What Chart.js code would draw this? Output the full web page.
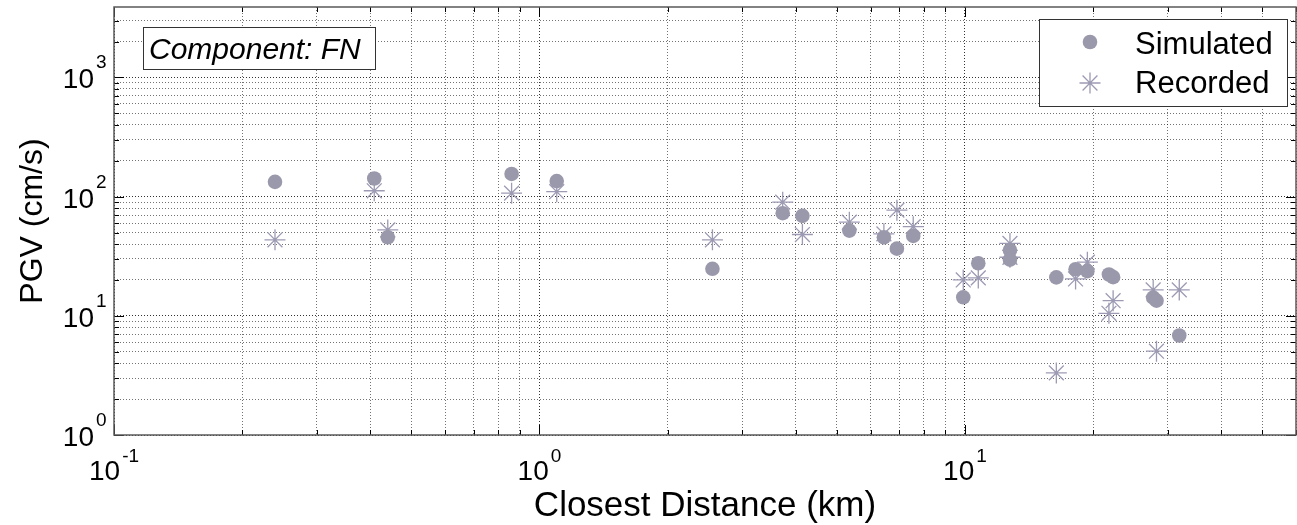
<!DOCTYPE html>
<html>
<head>
<meta charset="utf-8">
<script src="https://cdn.jsdelivr.net/npm/chart.js@4.4.1/dist/chart.umd.min.js"></script>
<style>
  html, body { margin: 0; padding: 0; background: #fff; }
  #wrap { width: 1297px; height: 525px; }
</style>
</head>
<body>
<div id="wrap"><canvas id="pgvChart" width="1297" height="525"></canvas></div>
<script>
// station closest distances (km) and peak ground velocity (cm/s)
const distanceKm = [0.239, 0.409, 0.440, 0.860, 1.098, 2.55, 3.73, 4.15, 5.35, 6.45, 6.92, 7.56,
  9.91, 10.75, 12.76, 12.76, 16.4, 18.2, 19.4, 21.8, 22.3, 27.7, 28.2, 31.9];
const simulatedPGV = [133, 142, 45.6, 155, 135, 24.8, 72.6, 69.0, 51.9, 45.6, 36.6, 46.8,
  14.3, 27.6, 35.5, 29.6, 21.0, 24.6, 23.7, 22.2, 21.1, 14.2, 13.4, 6.84];
const recordedPGV = [43.4, 112, 52.6, 107, 110, 43.4, 89.8, 48.1, 61.0, 48.7, 77.0, 56.0,
  20.0, 20.8, 40.5, 31.0, 3.32, 20.4, 28.2, 10.5, 13.4, 16.5, 5.05, 16.5];

const seriesLabels = ['Simulated', 'Recorded'];
const componentLabel = 'Component: FN';
const xTitle = 'Closest Distance (km)';
const yTitle = 'PGV (cm/s)';

// decade exponents used for the "10^n" tick labels
const xDecades = [-1, 0, 1];
const yDecades = [0, 1, 2, 3];
const xLimits = [0.1, 60];
const yLimits = [1, 3900];

const simColor = '#9a98ab';
const recColor = '#9d9bb3';
const FONT = '"Liberation Sans", Arial, sans-serif';

// 1..9 x 10^n grid positions inside the limits
function logTicks(decades, limits) {
  const out = [];
  decades.forEach(d => {
    for (let m = 1; m <= 9; m++) {
      const v = +(m * Math.pow(10, d)).toPrecision(6);
      if (v >= limits[0] - 1e-9 && v <= limits[1] + 1e-9) out.push({ value: v, major: m === 1 });
    }
  });
  return out;
}
const xTicks = logTicks(xDecades, xLimits);
const yTicks = logTicks(yDecades, yLimits);

function isMajor(v) {
  const e = Math.log10(v);
  return Math.abs(e - Math.round(e)) < 1e-6;
}

const gridColor = (c) => (c.tick && isMajor(c.tick.value)) ? 'rgba(0,0,0,0.8)' : 'rgba(0,0,0,0.55)';

// box, inward ticks, power-of-ten labels, titles, annotation and legend
const decorations = {
  id: 'decorations',
  afterDraw(chart) {
    const { ctx, chartArea: a, scales } = chart;
    const xs = scales.x, ys = scales.y;
    ctx.save();

    // tick marks on all four sides
    ctx.strokeStyle = '#000';
    ctx.lineWidth = 1;
    ctx.beginPath();
    xTicks.forEach(t => {
      const px = Math.round(xs.getPixelForValue(t.value)) + 0.5;
      const len = t.major ? 10 : 5;
      ctx.moveTo(px, a.bottom); ctx.lineTo(px, a.bottom - len);
      ctx.moveTo(px, a.top); ctx.lineTo(px, a.top + len);
    });
    yTicks.forEach(t => {
      const py = Math.round(ys.getPixelForValue(t.value)) + 0.5;
      const len = t.major ? 10 : 5;
      ctx.moveTo(a.left, py); ctx.lineTo(a.left + len, py);
      ctx.moveTo(a.right, py); ctx.lineTo(a.right - len, py);
    });
    ctx.stroke();

    // axes box
    ctx.strokeStyle = '#5a5a5a';
    ctx.lineWidth = 1.5;
    ctx.strokeRect(a.left, a.top, a.right - a.left, a.bottom - a.top);

    // tick labels 10^n
    ctx.fillStyle = '#000';
    ctx.textBaseline = 'alphabetic';
    const big = '28px ' + FONT, small = '19px ' + FONT;
    xDecades.forEach(d => {
      const px = xs.getPixelForValue(Math.pow(10, d));
      ctx.font = big; const w1 = ctx.measureText('10').width;
      ctx.font = small; const w2 = ctx.measureText(String(d)).width;
      const x0 = px - (w1 + 2 + w2) / 2;
      ctx.textAlign = 'left';
      ctx.font = big; ctx.fillText('10', x0, a.bottom + 45);
      ctx.font = small; ctx.fillText(String(d), x0 + w1 + 2, a.bottom + 27);
    });
    yDecades.forEach(d => {
      const py = ys.getPixelForValue(Math.pow(10, d));
      ctx.textAlign = 'right';
      ctx.font = big; ctx.fillText('10', a.left - 20, py + 11);
      ctx.textAlign = 'left';
      ctx.font = small; ctx.fillText(String(d), a.left - 18, py - 9);
    });

    // axis titles
    ctx.font = '35px ' + FONT;
    ctx.textAlign = 'center';
    ctx.fillText(xTitle, (a.left + a.right) / 2, 516);
    ctx.save();
    ctx.translate(42, (a.top + a.bottom) / 2);
    ctx.rotate(-Math.PI / 2);
    ctx.font = '32px ' + FONT;
    ctx.fillText(yTitle, 0, 0);
    ctx.restore();

    // component annotation
    ctx.fillStyle = '#fff';
    ctx.fillRect(143, 27, 233, 43);
    ctx.strokeStyle = '#333';
    ctx.lineWidth = 1;
    ctx.strokeRect(143.5, 27.5, 232, 42);
    ctx.fillStyle = '#000';
    ctx.textAlign = 'left';
    ctx.font = 'italic 30px ' + FONT;
    ctx.fillText(componentLabel, 149, 59);

    // legend
    ctx.fillStyle = '#fff';
    ctx.fillRect(1039, 19, 249, 88);
    ctx.strokeStyle = '#333';
    ctx.strokeRect(1039.5, 19.5, 248, 87);
    const ds = chart.data.datasets;
    ctx.fillStyle = simColor;
    ctx.beginPath();
    ctx.arc(1090, 42, ds[0].pointRadius, 0, Math.PI * 2);
    ctx.fill();
    ctx.strokeStyle = recColor;
    ctx.lineWidth = ds[1].borderWidth;
    Chart.helpers.drawPoint(ctx, {
      pointStyle: ds[1].pointStyle, radius: ds[1].pointRadius, borderWidth: ds[1].borderWidth
    }, 1090, 83);
    ctx.fillStyle = '#000';
    ctx.font = '31px ' + FONT;
    ctx.fillText(seriesLabels[0], 1135, 54);
    ctx.fillText(seriesLabels[1], 1135, 93);

    ctx.restore();
  }
};

const chart = new Chart(document.getElementById('pgvChart').getContext('2d'), {
  type: 'scatter',
  data: {
    datasets: [
      {
        label: seriesLabels[0],
        data: distanceKm.map((d, i) => ({ x: d, y: simulatedPGV[i] })),
        pointStyle: 'circle',
        pointRadius: 7.3,
        backgroundColor: simColor,
        borderColor: simColor,
        borderWidth: 0
      },
      {
        label: seriesLabels[1],
        data: distanceKm.map((d, i) => ({ x: d, y: recordedPGV[i] })),
        pointStyle: 'star',
        pointRadius: 10.5,
        backgroundColor: 'rgba(0,0,0,0)',
        borderColor: recColor,
        borderWidth: 1.3
      }
    ]
  },
  options: {
    responsive: false,
    animation: false,
    events: [],
    layout: { autoPadding: false, padding: { top: 7, right: 1, left: 0, bottom: 0 } },
    plugins: {
      legend: { display: false },
      tooltip: { enabled: false }
    },
    scales: {
      x: {
        type: 'logarithmic',
        min: xLimits[0],
        max: xLimits[1],
        afterBuildTicks: s => { s.ticks = xTicks.map(t => ({ value: t.value })); },
        afterFit: s => { s.height = 90; },
        ticks: { display: false },
        grid: { color: gridColor, lineWidth: 1, drawTicks: false },
        border: { display: false, dash: [1, 2] }
      },
      y: {
        type: 'logarithmic',
        min: yLimits[0],
        max: yLimits[1],
        afterBuildTicks: s => { s.ticks = yTicks.map(t => ({ value: t.value })); },
        afterFit: s => { s.width = 114; },
        ticks: { display: false },
        grid: { color: gridColor, lineWidth: 1, drawTicks: false },
        border: { display: false, dash: [1, 2] }
      }
    }
  },
  plugins: [decorations]
});
</script>
</body>
</html>
